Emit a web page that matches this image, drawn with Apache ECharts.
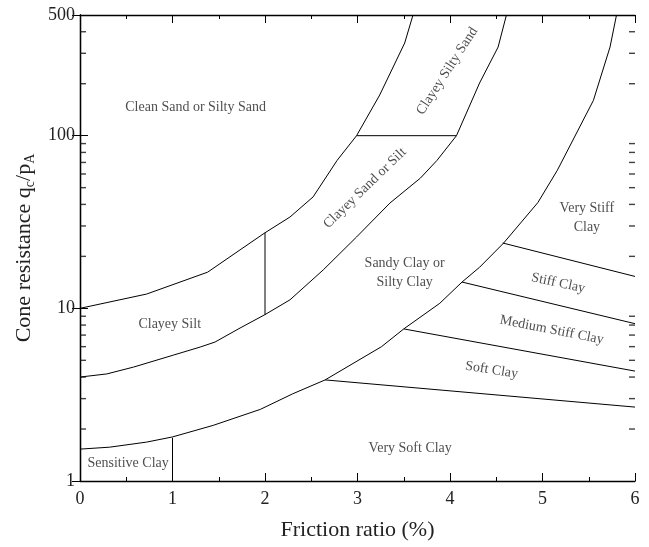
<!DOCTYPE html>
<html>
<head>
<meta charset="utf-8">
<script src="https://cdn.jsdelivr.net/npm/echarts@6/dist/echarts.min.js"></script>
<style>
  html, body { margin: 0; padding: 0; background: #fff; }
  #chart { width: 649px; height: 547px; }
</style>
</head>
<body>
<div id="chart"></div>
<script>
// boundary curves, [friction ratio %, qc/pA]
const curveUpper = [[0, 10], [0.72, 12.1], [1.38, 16.2], [1.73, 21.8], [2.0, 27.4], [2.27, 33.8], [2.52, 44.2], [2.78, 72], [2.99, 100], [3.24, 172], [3.51, 344], [3.6, 500]];
const curveMiddle = [[0, 4], [0.29, 4.17], [0.58, 4.57], [1.01, 5.36], [1.3, 5.97], [1.46, 6.38], [1.73, 7.69], [2.0, 9.2], [2.27, 11.2], [2.63, 16.7], [2.99, 25.9], [3.35, 40.7], [3.68, 56.8], [3.86, 72], [4.07, 100], [4.32, 202], [4.52, 326], [4.61, 500]];
const curveLower = [[0, 1.53], [0.32, 1.57], [0.72, 1.68], [1.0, 1.8], [1.44, 2.1], [1.95, 2.6], [2.3, 3.2], [2.65, 3.85], [3.26, 6.0], [3.5, 7.6], [3.89, 10.7], [4.13, 14.2], [4.32, 17.3], [4.58, 23.9], [4.95, 41], [5.16, 63], [5.55, 160], [5.73, 326], [5.8, 500]];

// straight dividers
const dividers = [
  [[1, 1], [1, 1.78]],
  [[2, 9.2], [2, 27.4]],
  [[2.99, 100], [4.07, 100]],
  [[4.57, 23.9], [6, 15.3]],
  [[4.13, 14.2], [6, 8.15]],
  [[3.5, 7.6], [6, 4.33]],
  [[2.65, 3.85], [6, 2.68]]
];

// zone labels
const zoneNames = ['Clean Sand or Silty Sand', 'Clayey Silty Sand', 'Clayey Sand or Silt', 'Clayey Silt',
  'Sandy Clay or\nSilty Clay', 'Very Stiff\nClay', 'Stiff Clay', 'Medium Stiff Clay', 'Soft Clay',
  'Very Soft Clay', 'Sensitive Clay'];
const zoneX = [1.25, 3.97, 3.08, 0.97, 3.51, 5.48, 5.17, 5.1, 4.45, 3.57, 0.52];
const zoneY = [146, 237, 49.7, 8.1, 16.0, 33.3, 14.0, 7.49, 4.39, 1.55, 1.27];
const zoneRotate = [0, 57, 44, 0, 0, 0, -12, -11, -9, 0, 0];

// minor ticks of the log axis
const yMinorTicks = [2, 3, 4, 5, 6, 7, 8, 9, 20, 30, 40, 50, 60, 70, 80, 90, 200, 300, 400];

const font = 'Liberation Serif';
const chart = echarts.init(document.getElementById('chart'));

const lineSeries = [curveUpper, curveMiddle, curveLower].concat(dividers).map(d => ({
  type: 'line',
  data: d,
  showSymbol: false,
  symbol: 'none',
  silent: true,
  lineStyle: { color: '#000', width: 1 },
  z: 3
}));

// small inward tick marks on the left and right frame sides
const tickSeries = [[0, 3], [6, -3]].map(([xPos, off]) => ({
  type: 'scatter',
  silent: true,
  clip: false,
  symbol: 'rect',
  symbolSize: [6, 1.4],
  symbolOffset: [off, 0],
  itemStyle: { color: '#111' },
  z: 10,
  zlevel: 1,
  data: yMinorTicks.map(v => [xPos, v])
}));

const axisCommon = {
  axisLine: { show: true, lineStyle: { color: '#000', width: 1.3 } },
  splitLine: { show: false }
};

chart.setOption({
  animation: false,
  grid: { left: 80, right: 14, top: 15, bottom: 66 },
  xAxis: [
    Object.assign({}, axisCommon, {
      type: 'value', min: 0, max: 6, interval: 1, position: 'bottom',
      name: 'Friction ratio (%)', nameLocation: 'middle', nameGap: 38,
      nameTextStyle: { fontFamily: font, fontSize: 22, color: '#222' },
      axisTick: { inside: true, length: 8, lineStyle: { color: '#000' } },
      minorTick: { show: true, splitNumber: 2, length: 4, lineStyle: { color: '#000' } },
      axisLabel: { fontFamily: font, fontSize: 18, color: '#222', margin: 9 }
    }),
    Object.assign({}, axisCommon, {
      type: 'value', min: 0, max: 6, interval: 1, position: 'top',
      axisTick: { inside: true, length: 8, lineStyle: { color: '#000' } },
      minorTick: { show: true, splitNumber: 2, length: 4, lineStyle: { color: '#000' } },
      axisLabel: { show: false }
    })
  ],
  yAxis: [
    Object.assign({}, axisCommon, {
      type: 'log', logBase: 10, min: 1, max: 500, position: 'left',
      name: 'Cone resistance q{sub|c}/p{sub|A}', nameLocation: 'middle', nameGap: 42, nameRotate: 90,
      nameTextStyle: {
        fontFamily: font, fontSize: 22, color: '#222',
        rich: { sub: { fontFamily: font, fontSize: 14, color: '#222', padding: [12, 0, 0, 0] } }
      },
      axisTick: { inside: true, length: 8, lineStyle: { color: '#000' } },
      axisLabel: { fontFamily: font, fontSize: 18, color: '#222', margin: 5 }
    }),
    Object.assign({}, axisCommon, {
      type: 'log', logBase: 10, min: 1, max: 500, position: 'right',
      axisTick: { inside: true, length: 8, lineStyle: { color: '#000' } },
      axisLabel: { show: false }
    })
  ],
  series: lineSeries.concat(tickSeries, [
    {
      type: 'scatter',
      silent: true,
      symbolSize: 1,
      itemStyle: { color: 'transparent' },
      z: 4,
      data: zoneNames.map((n, i) => ({
        name: n,
        value: [zoneX[i], zoneY[i]],
        label: { rotate: zoneRotate[i] }
      })),
      label: {
        show: true,
        position: 'inside',
        formatter: p => p.name,
        fontFamily: font,
        fontSize: 14,
        lineHeight: 19,
        color: '#222',
        align: 'center',
        verticalAlign: 'middle'
      }
    }
  ])
});
</script>
</body>
</html>
